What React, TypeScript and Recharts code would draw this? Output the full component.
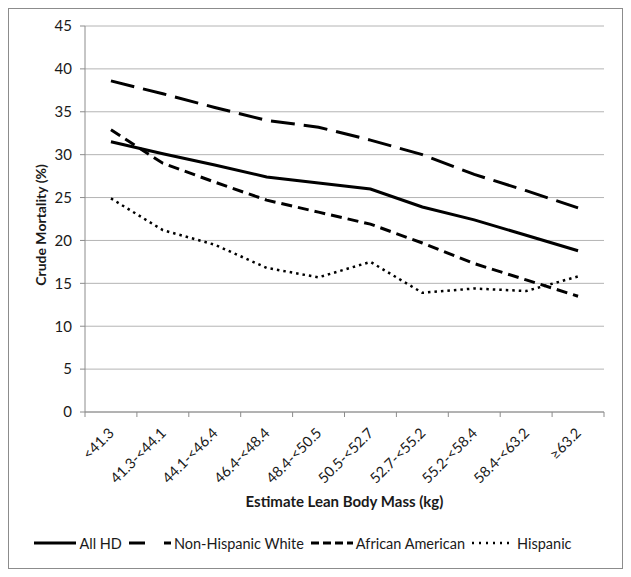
import React from 'react';
import { LineChart, Line, XAxis, YAxis, CartesianGrid, Legend } from 'recharts';

const categories = ['<41.3', '41.3-<44.1', '44.1-<46.4', '46.4-<48.4', '48.4-<50.5', '50.5-<52.7', '52.7-<55.2', '55.2-<58.4', '58.4-<63.2', '≥63.2'];
const allHD = [31.5, 30.1, 28.8, 27.4, 26.7, 26.0, 23.9, 22.4, 20.6, 18.8];
const nonHispanicWhite = [38.6, 37.1, 35.5, 34.0, 33.2, 31.7, 30.0, 27.7, 25.8, 23.8];
const africanAmerican = [32.9, 29.0, 26.8, 24.7, 23.3, 21.9, 19.7, 17.3, 15.4, 13.5];
const hispanic = [24.9, 21.2, 19.5, 16.8, 15.7, 17.5, 13.9, 14.4, 14.1, 15.8];
const yTicks = [0, 5, 10, 15, 20, 25, 30, 35, 40, 45];

const FONT = 'Lato, "Open Sans", sans-serif';
const AXIS_GRAY = '#8c8c8c';
const TEXT = '#1a1a1a';

// each category sits in the middle of its slot, ticks mark the slot edges
const data = categories.map((name, i) => ({
  x: i + 0.5,
  name,
  allHD: allHD[i],
  nhw: nonHispanicWhite[i],
  aa: africanAmerican[i],
  hisp: hispanic[i],
}));
const xTicks: number[] = [];
for (let i = 0; i <= categories.length * 2; i++) xTicks.push(i / 2);

const series = [
  { key: 'allHD', name: 'All HD', dash: undefined, width: 3, legendDash: undefined },
  { key: 'nhw', name: 'Non-Hispanic White', dash: '24 9', width: 3, legendDash: '16 19' },
  { key: 'aa', name: 'African American', dash: '11 6', width: 3, legendDash: '8 4' },
  { key: 'hisp', name: 'Hispanic', dash: '2.5 4', width: 2.5, legendDash: '2 5' },
];

const XTick = (props: any) => {
  const { x, y, payload } = props;
  const v = payload.value;
  if (Number.isInteger(v)) {
    return <line x1={x} y1={y} x2={x} y2={y + 5} stroke={AXIS_GRAY} />;
  }
  const tx = x + 4;
  const ty = y + 22;
  return (
    <text x={tx} y={ty} textAnchor="end" transform={`rotate(-45 ${tx} ${ty})`} fontSize={14.5} style={{ fill: TEXT }} fontFamily={FONT}>
      {categories[Math.floor(v)]}
    </text>
  );
};

const YTitle = (props: any) => {
  const vb = props.viewBox;
  const cx = vb.x + 31;
  const cy = vb.y + vb.height / 2 + 6;
  return (
    <text x={cx} y={cy} textAnchor="middle" dominantBaseline="central" transform={`rotate(-90 ${cx} ${cy})`} fontSize={14} fontWeight="bold" style={{ fill: TEXT }} fontFamily={FONT}>
      Crude Mortality (%)
    </text>
  );
};

const XTitle = (props: any) => {
  const vb = props.viewBox;
  return (
    <text x={vb.x + vb.width / 2} y={vb.y + 89} textAnchor="middle" dominantBaseline="central" fontSize={15} fontWeight="bold" style={{ fill: TEXT }} fontFamily={FONT}>
      Estimate Lean Body Mass (kg)
    </text>
  );
};

const LegendContent = () => (
  <div style={{ height: 24, display: 'flex', justifyContent: 'center', alignItems: 'center', fontFamily: FONT, fontSize: 14.5, color: TEXT }}>
    {series.map((s) => (
      <span key={s.key} style={{ display: 'flex', alignItems: 'center', marginRight: 7 }}>
        <svg width={42} height={8} style={{ marginRight: 3 }}>
          <line x1={0} y1={4} x2={42} y2={4} stroke="#000" strokeWidth={s.width} strokeDasharray={s.legendDash} />
        </svg>
        {s.name}
      </span>
    ))}
  </div>
);

export default function App() {
  return (
    <div style={{ width: 613, height: 559, border: '1px solid #8c8c8c', background: '#fff' }}>
      <LineChart width={613} height={559} data={data} margin={{ top: 17, right: 18, left: 0, bottom: 13 }}>
        <CartesianGrid horizontal vertical={false} stroke="#b4b4b4" />
        <XAxis
          dataKey="x"
          type="number"
          domain={[0, categories.length]}
          ticks={xTicks}
          interval={0}
          tick={<XTick />}
          tickLine={false}
          tickSize={0}
          tickMargin={0}
          height={119}
          axisLine={{ stroke: AXIS_GRAY }}
          label={<XTitle />}
        />
        <YAxis
          domain={[0, 45]}
          ticks={yTicks}
          width={76}
          tickSize={5}
          tickMargin={8}
          tickLine={{ stroke: AXIS_GRAY }}
          axisLine={{ stroke: AXIS_GRAY }}
          tick={{ fontSize: 15, fill: TEXT, fontFamily: FONT }}
          label={<YTitle />}
        />
        <Legend verticalAlign="bottom" content={<LegendContent />} />
        {series.map((s) => (
          <Line
            key={s.key}
            dataKey={s.key}
            name={s.name}
            stroke="#000"
            strokeWidth={s.width}
            strokeDasharray={s.dash}
            dot={false}
            activeDot={false}
            isAnimationActive={false}
          />
        ))}
      </LineChart>
    </div>
  );
}
